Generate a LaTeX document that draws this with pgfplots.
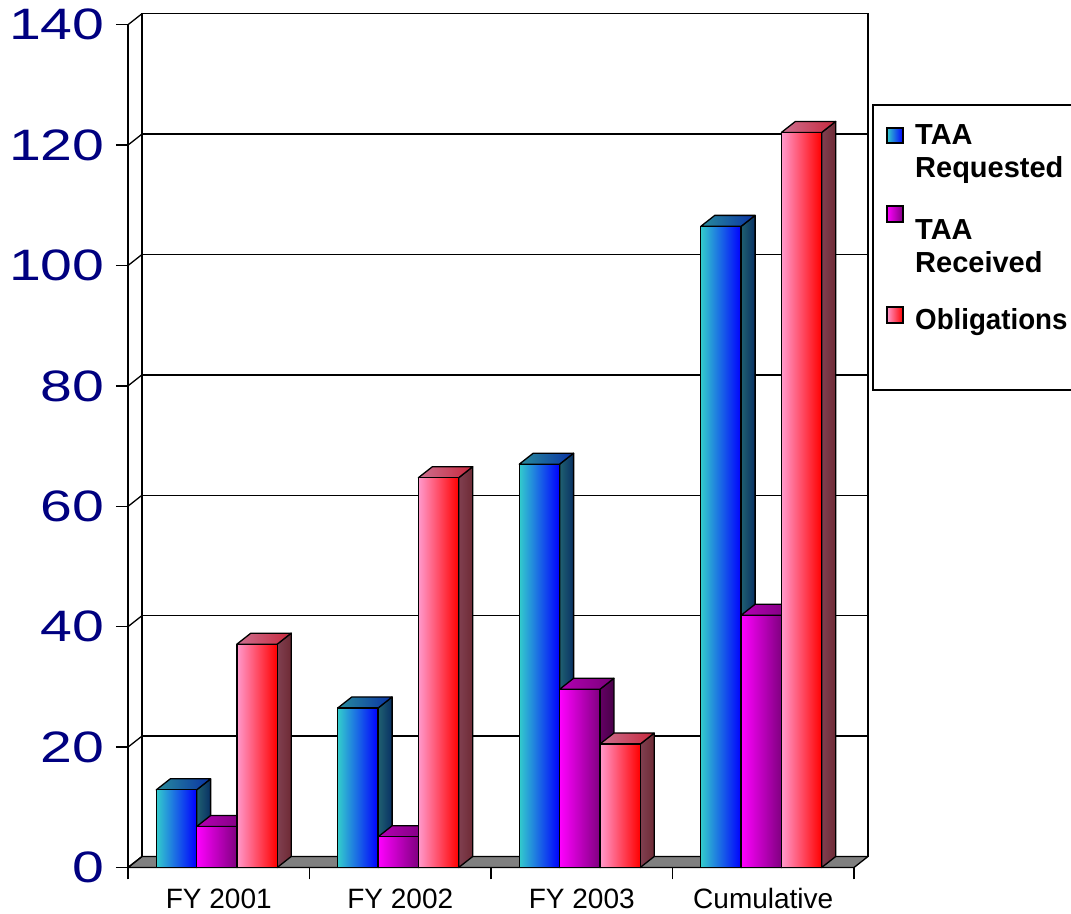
\documentclass[border=0pt]{standalone}
\usepackage{fontspec}
\setmainfont{Liberation Sans}
\usepackage{graphicx}
\usepackage{pgfplots}
\pgfplotsset{compat=1.18}

\definecolor{navyt}{RGB}{0,0,128}
\definecolor{reqFL}{RGB}{51,204,204}
\definecolor{reqFR}{RGB}{0,0,255}
\definecolor{reqTL}{RGB}{40,140,155}
\definecolor{reqTR}{RGB}{10,50,165}
\definecolor{reqSL}{RGB}{32,96,112}
\definecolor{reqSR}{RGB}{8,48,100}
\definecolor{recFL}{RGB}{255,0,255}
\definecolor{recFR}{RGB}{128,0,128}
\definecolor{recTL}{RGB}{180,0,180}
\definecolor{recTR}{RGB}{120,0,120}
\definecolor{recSL}{RGB}{100,0,100}
\definecolor{recSR}{RGB}{72,0,72}
\definecolor{oblFL}{RGB}{255,153,204}
\definecolor{oblFR}{RGB}{255,0,0}
\definecolor{oblTL}{RGB}{204,112,144}
\definecolor{oblTR}{RGB}{200,40,60}
\definecolor{oblSL}{RGB}{128,64,80}
\definecolor{oblSR}{RGB}{110,42,53}

\pgfdeclareplotmark{empty3d}{}

% #1 shift (bp), #2/#3 front colours, #4/#5 top colours, #6/#7 side colours, #8 coordinates
\newcommand{\barsthreed}[8]{%
 \addplot[scatter, only marks, mark=empty3d,
   visualization depends on={rawy \as \val},
   scatter/@post marker code/.code={},
   scatter/@pre marker code/.code={%
     \pgfmathsetlengthmacro\hh{-\val*6.02bp}%
     \pgfmathsetlengthmacro\hd{-\val*6.02bp+11bp}%
     \pgfmathsetlengthmacro\xl{(#1-20.15)*1bp}%
     \pgfmathsetlengthmacro\xr{(#1+20.15)*1bp}%
     \pgfmathsetlengthmacro\xld{(#1-20.15+14)*1bp}%
     \pgfmathsetlengthmacro\xrd{(#1+20.15+14)*1bp}%
     \path[draw=black,line width=1.3bp,line join=round,left color=#6,right color=#7]
       (\xr,0pt) -- (\xrd,11bp) -- (\xrd,\hd) -- (\xr,\hh) -- cycle;
     \path[draw=black,line width=1.3bp,line join=round,left color=#4,right color=#5]
       (\xl,0pt) -- (\xr,0pt) -- (\xrd,11bp) -- (\xld,11bp) -- cycle;
     \path[draw=black,line width=1.3bp,line join=round,left color=#2,right color=#3]
       (\xl,0pt) rectangle (\xr,\hh);
   }] coordinates {#8};
}

\begin{document}
\begin{tikzpicture}
\useasboundingbox (0,0) rectangle (1071bp,914bp);
% back wall
\begin{axis}[at={(142bp,57.5bp)}, anchor=south west, scale only axis,
  width=726bp, height=842.8bp,
  xmin=-0.5, xmax=3.5, ymin=0, ymax=140,
  xtick=\empty, ytick={0,20,...,140}, yticklabels={}, major tick length=0pt,
  ymajorgrids, grid style={black,line width=1.3bp},
  axis line style={black,line width=1.3bp}]
\addplot[draw=none] coordinates {(0,0)};
\end{axis}
% floor and side wall
\filldraw[fill=gray, draw=black, line width=1.3bp, line join=round]
  (128bp,46.5bp) -- (854bp,46.5bp) -- (868bp,57.5bp) -- (142bp,57.5bp) -- cycle;
\foreach \k in {0,...,7}
  \draw[black, line width=1.3bp] (128bp,46.5bp+\k*120.4bp) -- ++(14bp,11bp);
% front axis with bars
\begin{axis}[at={(128bp,46.5bp)}, anchor=south west, scale only axis,
  width=726bp, height=842.8bp,
  xmin=-0.5, xmax=3.5, ymin=0, ymax=140, clip=false,
  axis x line*=bottom, axis y line*=left,
  axis line style={black,line width=1.3bp,-},
  xtick={0,1,2,3}, xticklabels={FY 2001,FY 2002,FY 2003,Cumulative},
  minor xtick={-0.5,0.5,1.5,2.5,3.5},
  ytick={0,20,...,140},
  tick align=outside, major tick length=12bp, minor tick length=12bp,
  every tick/.style={black,line width=1.3bp},
  major x tick style={draw=none},
  xticklabel style={font=\fontsize{28bp}{32bp}\selectfont, text=black, inner sep=0pt, anchor=north, yshift=-9bp},
  yticklabel={\scalebox{1.3}[1]{\pgfmathprintnumber{\tick}}},
  yticklabel style={font=\fontsize{44bp}{48bp}\selectfont, text=navyt, anchor=east, xshift=-8bp},
  /pgf/number format/assume math mode=true]
\barsthreed{-42.3}{reqFL}{reqFR}{reqTL}{reqTR}{reqSL}{reqSR}{(0,12.9) (1,26.5) (2,67.0) (3,106.5)}
\barsthreed{-2}{recFL}{recFR}{recTL}{recTR}{recSL}{recSR}{(0,6.8) (1,5.1) (2,29.6) (3,41.9)}
\barsthreed{38.3}{oblFL}{oblFR}{oblTL}{oblTR}{oblSL}{oblSR}{(0,37.1) (1,64.75) (2,20.5) (3,122.1)}
\end{axis}
% legend
\draw[black, line width=1.3bp] (873bp,524bp) rectangle (1090bp,809bp);
\path[draw=black,line width=1.2bp,left color=reqFL,right color=reqFR] (887bp,771bp) rectangle (903bp,786bp);
\path[draw=black,line width=1.2bp,left color=recFL,right color=recFR] (887bp,692bp) rectangle (903bp,708bp);
\path[draw=black,line width=1.2bp,left color=oblFL,right color=oblFR] (887bp,591bp) rectangle (903bp,607bp);
\begin{scope}[every node/.style={anchor=base west, inner sep=0pt, font=\bfseries\fontsize{29bp}{33bp}\selectfont}]
\node at (915bp,769bp) {TAA};
\node at (915bp,736bp) {Requested};
\node at (915bp,674bp) {TAA};
\node at (915bp,641bp) {Received};
\node at (915bp,584bp) {\scalebox{0.955}[1]{Obligations}};
\end{scope}
\end{tikzpicture}
\end{document}
